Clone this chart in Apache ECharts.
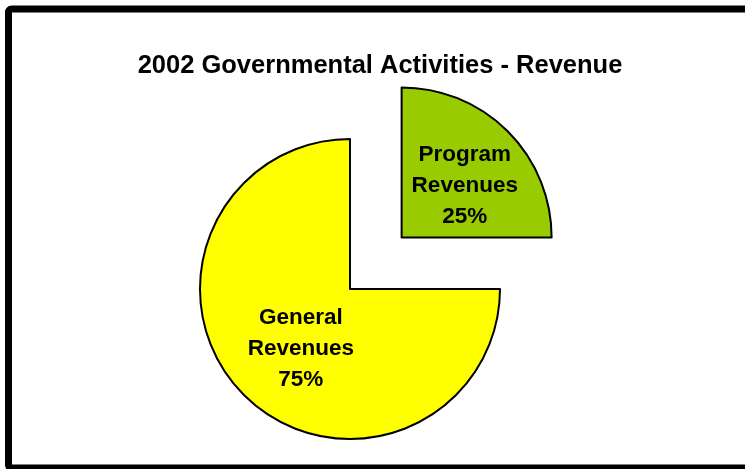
<!DOCTYPE html>
<html>
<head>
<meta charset="utf-8">
<script src="https://cdn.jsdelivr.net/npm/echarts@6/dist/echarts.min.js"></script>
<style>
html,body{margin:0;padding:0;background:#fff;}
#chart{width:745px;height:469px;}
</style>
</head>
<body>
<div id="chart"></div>
<script>
var titleText = '2002 Governmental Activities - Revenue';
var categories = ['Program Revenues', 'General Revenues'];
var values = [25, 75];
var colors = ['#99CC00', '#FFFF00'];

var chart = echarts.init(document.getElementById('chart'), null, {renderer: 'canvas'});
chart.setOption({
  backgroundColor: '#ffffff',
  animation: false,
  title: {
    text: titleText,
    left: 375,
    textAlign: 'center',
    top: 48,
    textStyle: {fontFamily: 'Liberation Sans, Arial, sans-serif', fontWeight: 'bold', fontSize: 25.5, color: '#000'}
  },
  graphic: [{
    type: 'rect',
    silent: true,
    shape: {x: 8.5, y: 9, width: 770, height: 459, r: 3},
    style: {fill: 'none', stroke: '#000', lineWidth: 7}
  }],
  series: [{
    type: 'pie',
    center: [350, 289],
    radius: [0, 150],
    startAngle: 90,
    clockwise: true,
    selectedMode: 'single',
    selectedOffset: 73,
    emphasis: {disabled: true},
    label: {
      show: true,
      position: 'inner',
      formatter: function (p) { return p.name.replace(' ', '\n') + '\n' + p.percent.toFixed(0) + '%'; },
      fontFamily: 'Liberation Sans, Arial, sans-serif',
      fontWeight: 'bold',
      fontSize: 22.5,
      lineHeight: 31,
      color: '#000'
    },
    labelLine: {show: false},
    itemStyle: {borderColor: '#000', borderWidth: 2},
    data: categories.map(function (c, i) {
      var off = i === 0 ? [8, 4] : [6, 5];
      return {
        name: c, value: values[i], selected: i === 0,
        itemStyle: {color: colors[i]},
        label: {offset: off},
        select: {label: {offset: off}}
      };
    })
  }]
});
</script>
</body>
</html>
